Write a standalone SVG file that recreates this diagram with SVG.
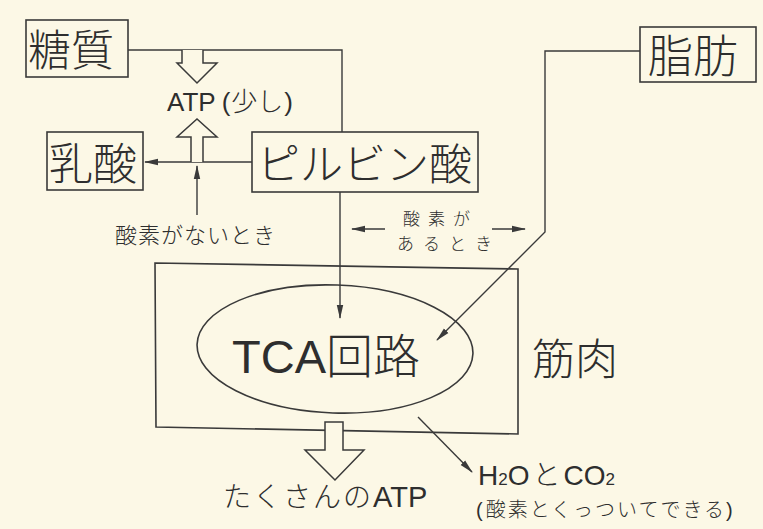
<svg xmlns="http://www.w3.org/2000/svg" width="763" height="529" viewBox="0 0 763 529">
<defs>
<marker id="ah" markerWidth="14" markerHeight="8" refX="13" refY="4" orient="auto" markerUnits="userSpaceOnUse">
<path d="M0,0.8 L14,4 L0,7.2 z" fill="#3a3a3a"/>
</marker>
<style>
.box{fill:none;stroke:#3a3a3a;stroke-width:1.6}
.ln{fill:none;stroke:#3a3a3a;stroke-width:1.4}
.arr{fill:none;stroke:#3a3a3a;stroke-width:1.4;marker-end:url(#ah)}
.hol{fill:#fcf8e6;stroke:#3a3a3a;stroke-width:1.5;stroke-linejoin:miter}
.t{font-family:"Noto Sans CJK JP","Noto Sans",sans-serif;font-weight:300;fill:#2e2e2e}
.l{font-family:"Liberation Sans","Noto Sans CJK JP",sans-serif;fill:#2e2e2e}
</style>
</defs>
<rect width="763" height="529" fill="#fcf8e6"/>

<g id="connectors">
<polyline class="ln" points="128,50 342,50 342,132"/>
<line class="arr" x1="252" y1="162" x2="145" y2="162"/>
<line class="arr" x1="197" y1="215" x2="197" y2="166"/>
<line class="arr" x1="340" y1="192" x2="340" y2="318"/>
<polyline class="arr" points="640,51 545,51 545,232 437,340"/>
<line class="arr" x1="385" y1="229" x2="352" y2="229"/>
<line class="arr" x1="492" y1="229" x2="525" y2="229"/>
<line class="arr" x1="418" y1="417" x2="472" y2="472"/>
</g>

<g id="muscle">
<polygon class="box" points="155,263 518,269 518,434 156,427"/>
<text class="t" x="532" y="375" font-size="43">筋肉</text>
</g>

<g id="tca">
<ellipse class="box" cx="335" cy="349" rx="138" ry="64" transform="rotate(2 335 349)"/>
<text class="l" x="232" y="373" font-size="47">TCA<tspan class="t">回路</tspan></text>
</g>

<g id="sugar">
<rect class="box" x="26" y="20" width="102" height="57"/>
<text class="t" x="28" y="66" font-size="43">糖質</text>
</g>

<g id="lactic">
<rect class="box" x="47" y="132" width="96" height="58"/>
<text class="t" x="49" y="180" font-size="44">乳酸</text>
</g>

<g id="pyruvic">
<rect class="box" x="252" y="132" width="226" height="60" fill="#fcf8e6"/>
<text class="t" x="257" y="180" font-size="43">ピルビン酸</text>
</g>

<g id="fat">
<rect class="box" x="640" y="27" width="116" height="55"/>
<text class="t" x="648" y="73" font-size="45">脂肪</text>
</g>

<g id="atp-small">
<path class="hol" d="M182,50 L182,63 L177,63 L197,83 L217,63 L203,63 L203,50"/>
<text class="l" x="167" y="111" font-size="26">ATP<tspan dx="6">(</tspan><tspan class="t" dx="1">少し</tspan><tspan dx="1">)</tspan></text>
<path class="hol" d="M191,162 L191,137 L177,137 L197,119 L217,137 L203,137 L203,162"/>
</g>

<g id="no-oxygen">
<text class="t" x="115" y="243" font-size="22" letter-spacing="1">酸素がないとき</text>
</g>

<g id="with-oxygen">
<text class="t" x="403" y="225" font-size="17" letter-spacing="8">酸素が</text>
<text class="t" x="397" y="250" font-size="17" letter-spacing="9">あるとき</text>
</g>

<g id="atp-many">
<path class="hol" d="M325,422 L343,422 L343,450 L364,450 L335,480 L305,450 L325,450 z"/>
<text class="t" x="223" y="507" font-size="28" letter-spacing="2">たくさんの<tspan class="l" letter-spacing="0" font-size="29">ATP</tspan></text>
</g>

<g id="h2o-co2">
<text class="l" x="478" y="485" font-size="28">H<tspan font-size="17">2</tspan>O<tspan class="t" dx="3">と</tspan><tspan dx="3">CO</tspan><tspan font-size="17">2</tspan></text>
<text class="l" x="476" y="517" font-size="20">(<tspan class="t" dx="3" letter-spacing="2">酸素とくっついてできる</tspan>)</text>
</g>
</svg>
